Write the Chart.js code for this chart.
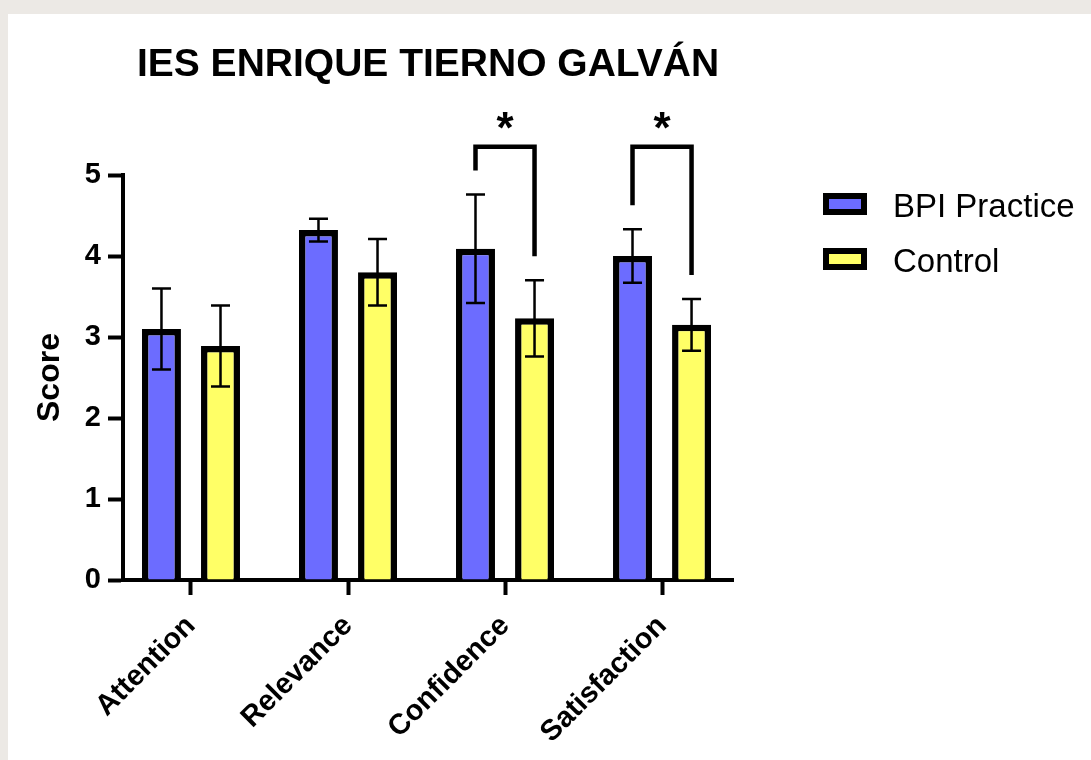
<!DOCTYPE html>
<html>
<head>
<meta charset="utf-8">
<title>IES Enrique Tierno Galván</title>
<script src="https://cdn.jsdelivr.net/npm/chart.js@4.4.1/dist/chart.umd.min.js"></script>
<style>
  html, body { margin: 0; height: 100%; background: #ece9e5; overflow: hidden; }
  #panel { position: absolute; left: 8px; top: 14px; right: 0; bottom: 0; background: #fff; }
  #wrap { position: absolute; left: 0; top: 0; width: 1091px; height: 760px; }
  #legend { position: absolute; left: 823px; top: 193px; margin: 0; padding: 0; list-style: none;
            font-family: 'Liberation Sans', Arial, sans-serif; font-size: 33px; color: #000; }
  #legend li { display: flex; align-items: center; height: 22px; margin-bottom: 33px; }
  #legend .box { width: 44px; height: 22px; box-sizing: border-box; border: 6px solid #000; }
  #legend .txt { margin-left: 26px; line-height: 22px; position: relative; top: 2px; white-space: nowrap; }
</style>
</head>
<body>
<div id="panel"></div>
<div id="wrap"><canvas id="myChart"></canvas></div>
<ul id="legend"></ul>
<script>
// ARCS scores per dimension, mean and error (SEM)
const categories = ['Attention', 'Relevance', 'Confidence', 'Satisfaction'];
const seriesNames = ['BPI Practice', 'Control'];
const seriesColors = ['#6c6cff', '#ffff66'];
const bpiMeans = [3.10, 4.32, 4.09, 4.00];
const bpiErrors = [0.50, 0.14, 0.67, 0.33];
const controlMeans = [2.89, 3.80, 3.23, 3.15];
const controlErrors = [0.50, 0.41, 0.47, 0.32];
const yTicks = [0, 1, 2, 3, 4, 5];
// significance marks between the two groups, per category
const sigMarks = ['', '', '*', '*'];
const bracketLevel = 5.35;

const FONT = "'Liberation Sans', Arial, Helvetica, sans-serif";
Chart.defaults.font.family = FONT;
Chart.defaults.color = '#000';

const toPoints = arr => arr.map((v, i) => ({ x: i, y: v }));

// error bars drawn on top of each bar
const errorBars = {
    id: 'errorBars',
    afterDatasetsDraw(chart) {
        const ctx = chart.ctx;
        const y = chart.scales.y;
        ctx.save();
        ctx.strokeStyle = '#000';
        ctx.lineWidth = 2.5;
        chart.data.datasets.forEach((ds, d) => {
            const meta = chart.getDatasetMeta(d);
            meta.data.forEach((bar, i) => {
                const m = ds.data[i].y;
                const e = ds.errors[i];
                const top = y.getPixelForValue(m + e);
                const bot = y.getPixelForValue(m - e);
                const cap = 9.5;
                ctx.beginPath();
                ctx.moveTo(bar.x, top); ctx.lineTo(bar.x, bot);
                ctx.moveTo(bar.x - cap, top); ctx.lineTo(bar.x + cap, top);
                ctx.moveTo(bar.x - cap, bot); ctx.lineTo(bar.x + cap, bot);
                ctx.stroke();
            });
        });
        ctx.restore();
    }
};

// brackets with asterisks above significant pairs
const sigBrackets = {
    id: 'sigBrackets',
    afterDatasetsDraw(chart) {
        const ctx = chart.ctx;
        const y = chart.scales.y;
        const a = chart.getDatasetMeta(0).data;
        const b = chart.getDatasetMeta(1).data;
        const ya = chart.data.datasets[0];
        const yb = chart.data.datasets[1];
        const gap = 24;
        ctx.save();
        ctx.strokeStyle = '#000';
        ctx.fillStyle = '#000';
        ctx.lineWidth = 4.5;
        ctx.lineJoin = 'miter';
        sigMarks.forEach((mark, i) => {
            if (!mark) return;
            const top = y.getPixelForValue(bracketLevel);
            const leftEnd = y.getPixelForValue(ya.data[i].y + ya.errors[i]) - gap;
            const rightEnd = y.getPixelForValue(yb.data[i].y + yb.errors[i]) - gap;
            ctx.beginPath();
            ctx.moveTo(a[i].x, leftEnd);
            ctx.lineTo(a[i].x, top);
            ctx.lineTo(b[i].x, top);
            ctx.lineTo(b[i].x, rightEnd);
            ctx.stroke();
            ctx.font = 'bold 44px ' + FONT;
            ctx.textAlign = 'center';
            ctx.textBaseline = 'alphabetic';
            ctx.fillText(mark, (a[i].x + b[i].x) / 2, top - 4);
        });
        ctx.restore();
    }
};

const ctx = document.getElementById('myChart').getContext('2d');

new Chart(ctx, {
    type: 'bar',
    data: {
        datasets: [
            {
                label: seriesNames[0],
                data: toPoints(bpiMeans),
                errors: bpiErrors,
                backgroundColor: seriesColors[0],
                borderColor: '#000',
                borderWidth: 6.5
            },
            {
                label: seriesNames[1],
                data: toPoints(controlMeans),
                errors: controlErrors,
                backgroundColor: seriesColors[1],
                borderColor: '#000',
                borderWidth: 6.5
            }
        ]
    },
    options: {
        responsive: true,
        maintainAspectRatio: false,
        animation: false,
        categoryPercentage: 0.752,
        barPercentage: 0.66,
        layout: { padding: { left: 0, right: 358, top: 0, bottom: 0 } },
        plugins: {
            legend: { display: false },
            tooltip: { enabled: false },
            title: {
                display: true,
                text: 'IES ENRIQUE TIERNO GALVÁN',
                fullSize: false,
                color: '#000',
                font: { size: 39, weight: 'bold', lineHeight: 1 },
                padding: { top: 46, bottom: 90 }
            }
        },
        scales: {
            x: {
                type: 'linear',
                min: -0.433,
                max: 3.452,
                offset: false,
                afterFit: s => { s.height = 180; },
                ticks: {
                    stepSize: 1,
                    includeBounds: false,
                    autoSkip: false,
                    maxRotation: 45,
                    minRotation: 45,
                    padding: 14,
                    font: { size: 29, weight: 'bold' },
                    callback: v => categories[v] ?? ''
                },
                grid: { offset: false, drawOnChartArea: false, drawTicks: true, tickLength: 15, tickWidth: 4, tickColor: '#000' },
                border: { display: true, color: '#000', width: 4 }
            },
            y: {
                min: 0,
                max: yTicks[yTicks.length - 1],
                afterFit: s => { s.width = 123; },
                afterBuildTicks: s => { s.ticks = yTicks.map(v => ({ value: v })); },
                ticks: {
                    padding: 7,
                    font: { size: 29, weight: 'bold' }
                },
                title: {
                    display: true,
                    text: 'Score',
                    color: '#000',
                    font: { size: 32, weight: 'bold' },
                    padding: { top: 31, bottom: 0 }
                },
                grid: { drawOnChartArea: false, drawTicks: true, tickLength: 15, tickWidth: 4, tickColor: '#000' },
                border: { display: true, color: '#000', width: 4 }
            }
        }
    },
    plugins: [errorBars, sigBrackets]
});

// legend built from the series arrays
const legendEl = document.getElementById('legend');
seriesNames.forEach((name, i) => {
    const li = document.createElement('li');
    const box = document.createElement('span');
    box.className = 'box';
    box.style.background = seriesColors[i];
    const txt = document.createElement('span');
    txt.className = 'txt';
    txt.textContent = name;
    li.appendChild(box);
    li.appendChild(txt);
    legendEl.appendChild(li);
});
</script>
</body>
</html>
